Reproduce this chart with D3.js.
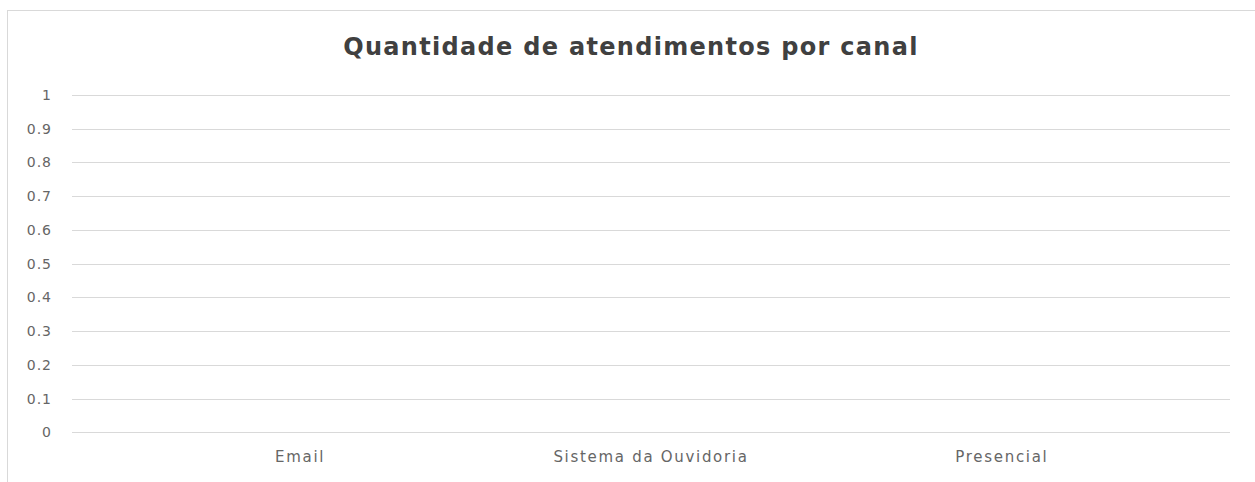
<!DOCTYPE html>
<html>
<head>
<meta charset="utf-8">
<script src="https://cdn.jsdelivr.net/npm/d3@7"></script>
<style>
  html,body{margin:0;padding:0;background:#fff;}
  svg{display:block;}
</style>
</head>
<body>
<div id="chart"></div>
<script>
// data -- the source chart is empty: every channel has 0
const categories=["Email","Sistema da Ouvidoria","Presencial"];
const values=[0,0,0];
const yTicks=[0,0.1,0.2,0.3,0.4,0.5,0.6,0.7,0.8,0.9,1];
const title="Quantidade de atendimentos por canal";

const totalW=1255, totalH=482;
const margin={top:95,right:25,bottom:50,left:72};
const W=totalW-margin.left-margin.right;
const H=432.3-95;
const FONT="'DejaVu Sans', sans-serif";

const svg=d3.select("#chart").append("svg")
  .attr("width",totalW).attr("height",totalH);

// chart frame
svg.append("rect").attr("x",7.5).attr("y",10.5).attr("width",totalW).attr("height",totalH)
  .attr("fill","#fff").attr("stroke","#d9d9d9").attr("stroke-width",1);

svg.append("text").attr("x",631).attr("y",55)
  .attr("text-anchor","middle").attr("fill","#404040")
  .style("font-family",FONT).style("font-size","24px").style("font-weight","700")
  .style("letter-spacing","1.3px")
  .text(title);

const g=svg.append("g").attr("transform",`translate(${margin.left},${margin.top})`);

const x=d3.scaleBand().domain(categories).range([0,W]).padding(0.3);
const y=d3.scaleLinear().domain([0,1]).range([H,0]);

// gridlines
g.append("g").selectAll("line").data(yTicks).join("line")
  .attr("x1",0).attr("x2",W)
  .attr("y1",d=>Math.round(y(d))+0.5).attr("y2",d=>Math.round(y(d))+0.5)
  .attr("stroke","#d9d9d9").attr("stroke-width",1);

// y labels
g.append("g").selectAll("text").data(yTicks).join("text")
  .attr("x",-20).attr("y",d=>y(d)+5)
  .attr("text-anchor","end").attr("fill","#666")
  .style("font-family",FONT).style("font-size","14px").style("letter-spacing","1px")
  .text(d=>d);

// bars (all zero height)
g.append("g").selectAll("rect").data(values).join("rect")
  .attr("x",(d,i)=>x(categories[i])).attr("width",x.bandwidth())
  .attr("y",d=>y(d)).attr("height",d=>H-y(d))
  .attr("fill","#4472c4");

// x labels
g.append("g").selectAll("text").data(categories).join("text")
  .attr("x",d=>x(d)+x.bandwidth()/2).attr("y",H+30)
  .attr("text-anchor","middle").attr("fill","#666")
  .style("font-family",FONT).style("font-size","15px").style("letter-spacing","1.7px")
  .text(d=>d);
</script>
</body>
</html>
